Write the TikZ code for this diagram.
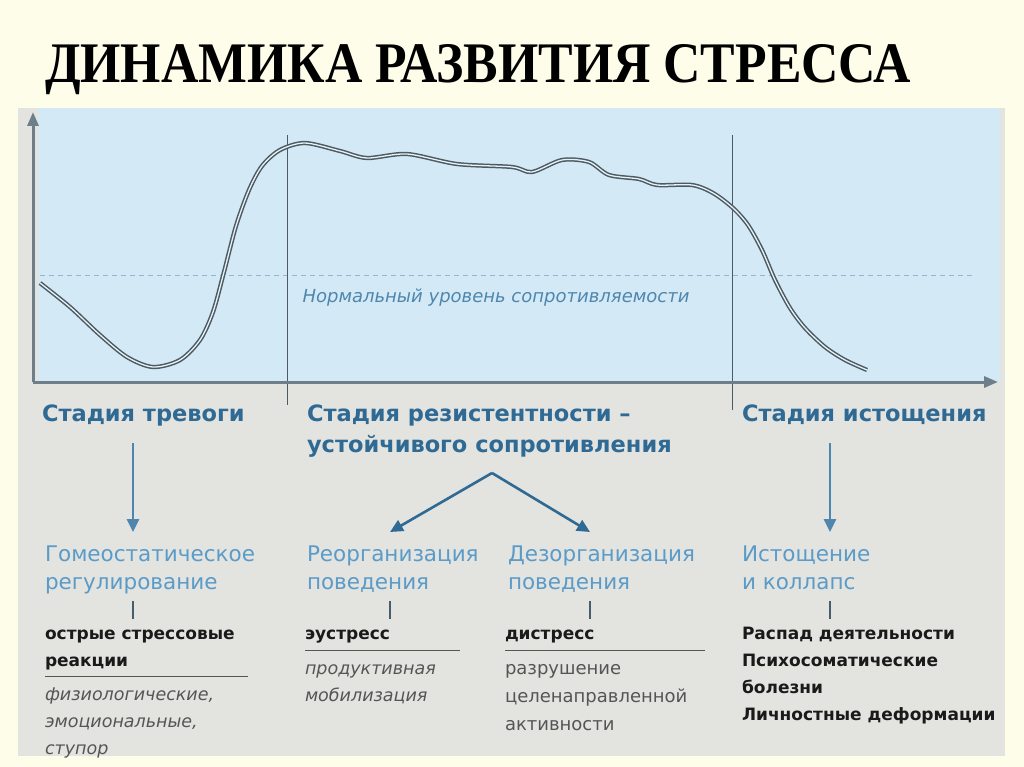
\documentclass[tikz,border=0pt]{standalone}
\usepackage{fontspec}
\setmainfont{DejaVu Sans}
\newfontfamily\titlefont{Liberation Serif}
\usetikzlibrary{arrows.meta}
\definecolor{cream}{HTML}{FDFDE9}
\definecolor{panel}{HTML}{E3E3E0}
\definecolor{sky}{HTML}{D3EAF6}
\definecolor{axisc}{HTML}{6E7F8A}
\definecolor{headc}{HTML}{2F6A94}
\definecolor{subc}{HTML}{5A9BC8}
\definecolor{darkt}{HTML}{1A1A1A}
\definecolor{grayt}{HTML}{555555}
\definecolor{curvec}{HTML}{4E5A62}
\definecolor{normc}{HTML}{4F86AE}
\tikzset{
  x=1pt,y=-1pt,
  every node/.style={inner sep=0pt,outer sep=0pt},
  headtext/.style={anchor=base west,align=left,text=headc,font=\fontsize{22.5}{31}\selectfont\bfseries},
  subtext/.style={anchor=base west,align=left,text=subc,font=\fontsize{21.5}{28}\selectfont},
  boldtext/.style={anchor=base west,align=left,text=darkt,font=\fontsize{17}{27}\selectfont\bfseries},
  softtext/.style={anchor=base west,align=left,text=grayt,font=\fontsize{18}{28}\selectfont},
  softital/.style={anchor=base west,align=left,text=grayt,font=\fontsize{17.5}{27}\selectfont\itshape},
  downarrow/.style={draw=normc,line width=2.8pt,-{Triangle[length=13pt,width=12pt]}},
  diagarrow/.style={draw=headc,line width=2.6pt,-{Triangle[length=13pt,width=12pt]}},
  tick/.style={draw=curvec!80!headc,line width=2.2pt},
  rule/.style={draw=grayt,line width=1pt},
  stagesep/.style={draw=curvec,line width=0.8pt},
}
\begin{document}
\begin{tikzpicture}
\useasboundingbox (0,0) rectangle (1024,767);
\fill[cream] (0,0) rectangle (1024,767);
% title
\node[anchor=base west,text=black] (title) at (45,83) {\resizebox{866pt}{38pt}{\titlefont\bfseries ДИНАМИКА РАЗВИТИЯ СТРЕССА}};
% panel
\fill[panel] (18,108) rectangle (1005,756);
\fill[sky] (38,108) rectangle (1000,382);
% normal level
\draw[normc!60,line width=0.8pt,dash pattern=on 5pt off 4pt] (40,275) -- (975,275);
\node[anchor=base,text=normc,font=\fontsize{18}{20}\selectfont\itshape] (norm) at (496,302) {Нормальный уровень сопротивляемости};
% stage separators
\coordinate (sepA1) at (287,135); \coordinate (sepA2) at (287,405);
\coordinate (sepB1) at (732,135); \coordinate (sepB2) at (732,410);
\draw[stagesep] (sepA1) -- (sepA2);
\draw[stagesep] (sepB1) -- (sepB2);
% axes
\coordinate (origin) at (33,382);
\coordinate (ytip) at (33,112);
\coordinate (xtip) at (998,382);
\draw[axisc,line width=3pt,-{Triangle[length=14pt,width=11pt]}] (origin) -- (ytip);
\draw[axisc,line width=3pt,-{Triangle[length=14pt,width=11pt]}] (origin) -- (xtip);
% curve
\draw[draw=curvec,line width=1.5pt,double=sky!60!white,double distance=1.3pt,line join=round]
 plot[smooth,tension=0.5] coordinates {
 (40,283) (70,307) (100,335) (127,357) (153,367) (180,360) (200,340) (213,312) (224,272)
 (236,226) (249,190) (262,166) (280,150) (305,143)
 (340,151) (367,158) (407,154) (457,164) (512,167) (532,172) (562,160) (589,162) (609,175)
 (639,179) (657,185) (692,185) (713,193) (733,208) (748,225) (762,250) (775,280) (790,308)
 (805,328) (825,347) (845,360) (867,370)};
% stage headings
\node[headtext] (h1) at (42,421) {Стадия тревоги};
\node[headtext] (h2) at (307,452) {Стадия резистентности –\\устойчивого сопротивления};
\node[headtext] (h3) at (742,421) {Стадия истощения};
% stage 1
\coordinate (a1s) at (133,443); \coordinate (a1e) at (133,532);
\draw[downarrow] (a1s) -- (a1e);
\node[subtext] (s1) at (45,589) {Гомеостатическое\\регулирование};
\coordinate (t1s) at (133,601); \coordinate (t1e) at (133,619);
\draw[tick] (t1s) -- (t1e);
\node[boldtext] (b1) at (45,666) {острые стрессовые\\реакции};
\coordinate (r1s) at (45,676); \coordinate (r1e) at (248,676);
\draw[rule] (r1s) -- (r1e);
\node[softital] (d1) at (45,754) {физиологические,\\эмоциональные,\\ступор};
% stage 2
\coordinate (apex) at (492,473);
\coordinate (a2l) at (390,532); \coordinate (a2r) at (590,532);
\draw[diagarrow] (apex) -- (a2l);
\draw[diagarrow] (apex) -- (a2r);
\node[subtext] (s2) at (307,589) {Реорганизация\\поведения};
\node[subtext] (s3) at (508,589) {Дезорганизация\\поведения};
\coordinate (t2s) at (390,601); \coordinate (t2e) at (390,619);
\coordinate (t3s) at (590,601); \coordinate (t3e) at (590,619);
\draw[tick] (t2s) -- (t2e);
\draw[tick] (t3s) -- (t3e);
\node[boldtext] (b2) at (305,639) {эустресс};
\node[boldtext] (b3) at (505,639) {дистресс};
\coordinate (r2s) at (305,650); \coordinate (r2e) at (460,650);
\coordinate (r3s) at (505,650); \coordinate (r3e) at (705,650);
\draw[rule] (r2s) -- (r2e);
\draw[rule] (r3s) -- (r3e);
\node[softital] (d2) at (305,701) {продуктивная\\мобилизация};
\node[softtext] (d3) at (505,730) {разрушение\\целенаправленной\\активности};
% stage 3
\coordinate (a3s) at (830,443); \coordinate (a3e) at (830,532);
\draw[downarrow] (a3s) -- (a3e);
\node[subtext] (s4) at (742,589) {Истощение\\и коллапс};
\coordinate (t4s) at (830,601); \coordinate (t4e) at (830,619);
\draw[tick] (t4s) -- (t4e);
\node[boldtext] (b4) at (742,720) {Распад деятельности\\Психосоматические\\болезни\\Личностные деформации};
\end{tikzpicture}
\end{document}
